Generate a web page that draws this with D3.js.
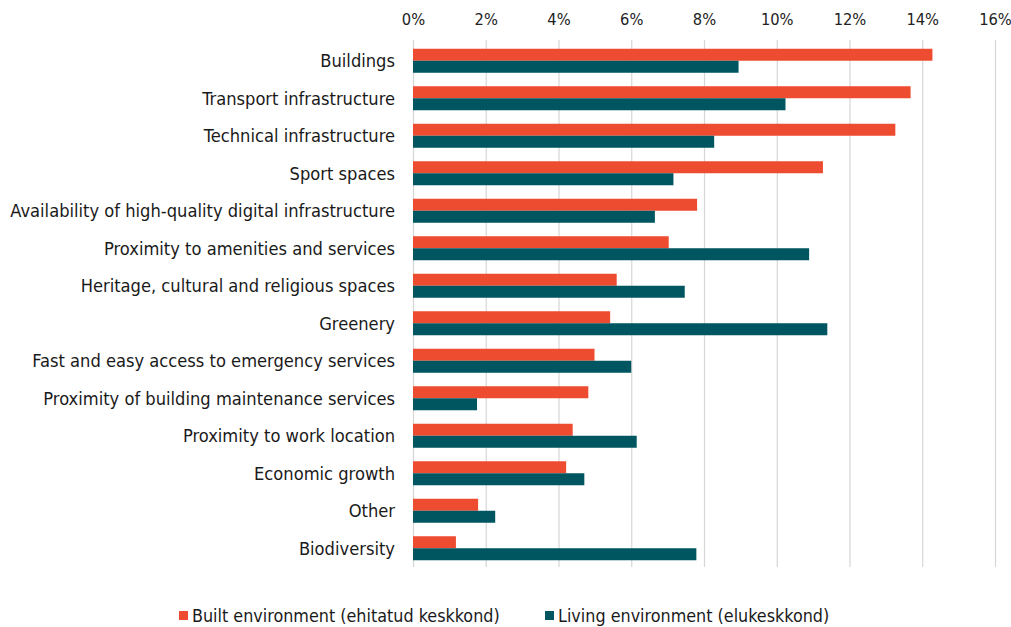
<!DOCTYPE html>
<html>
<head>
<meta charset="utf-8">
<script src="https://cdn.jsdelivr.net/npm/d3@7"></script>
<style>
  html, body { margin: 0; padding: 0; background: #ffffff; }
  svg { display: block; }
  text { font-family: "DejaVu Sans", Verdana, sans-serif; font-stretch: condensed; fill: #1a1a1a; }
</style>
</head>
<body>
<svg id="chart" width="1011" height="627"></svg>
<script>
// Survey categories, top to bottom
const categories = [
  "Buildings",
  "Transport infrastructure",
  "Technical infrastructure",
  "Sport spaces",
  "Availability of high-quality digital infrastructure",
  "Proximity to amenities and services",
  "Heritage, cultural and religious spaces",
  "Greenery",
  "Fast and easy access to emergency services",
  "Proximity of building maintenance services",
  "Proximity to work location",
  "Economic growth",
  "Other",
  "Biodiversity"
];

// Share of responses (%)
const builtValues  = [14.28, 13.68, 13.26, 11.27, 7.81, 7.03, 5.60, 5.42, 4.99, 4.82, 4.39, 4.21, 1.79, 1.18];
const livingValues = [8.95, 10.24, 8.28, 7.16, 6.65, 10.89, 7.47, 11.39, 6.00, 1.76, 6.15, 4.71, 2.26, 7.79];

const seriesNames = ["Built environment (ehitatud keskkond)", "Living environment (elukeskkond)"];
const seriesColors = ["#ee4c30", "#005660"];

const xTicks = [0, 2, 4, 6, 8, 10, 12, 14, 16];

const svg = d3.select("#chart");
const margin = { top: 42, left: 413, right: 16, bottom: 60 };
const plotW = 995 - margin.left;
const plotH = 567 - margin.top;

const x = d3.scaleLinear().domain([0, 16]).range([0, plotW]);
const y = d3.scaleBand().domain(categories).range([0, plotH]).paddingInner(0.36).paddingOuter(0.18);
const sub = d3.scaleBand().domain([0, 1]).range([0, y.bandwidth()]);

const g = svg.append("g").attr("transform", `translate(${margin.left},${margin.top})`);

// vertical gridlines
const grid = g.append("g")
  .call(d3.axisTop(x).tickValues(xTicks).tickSize(-plotH - 2).tickFormat(""));
grid.select(".domain").remove();
grid.selectAll(".tick line").attr("stroke", "#d6d6d6").attr("stroke-width", 1.2)
  .attr("transform", "translate(0,-2)");

// top axis labels
const xAxis = g.append("g").attr("transform", "translate(0,-14)")
  .call(d3.axisTop(x).tickValues(xTicks).tickSize(0).tickFormat(d => d + "%"));
xAxis.select(".domain").remove();
xAxis.selectAll("text").style("font-size", "14px").style("fill", "#222");

// bars
const rows = categories.map((c, i) => ({ c, vals: [builtValues[i], livingValues[i]] }));
const rowG = g.selectAll(".row").data(rows).join("g")
  .attr("class", "row")
  .attr("transform", d => `translate(0,${y(d.c)})`);
rowG.selectAll("rect").data(d => d.vals.map((v, k) => ({ v, k }))).join("rect")
  .attr("x", x(0))
  .attr("y", d => sub(d.k))
  .attr("width", d => x(d.v) - x(0))
  .attr("height", sub.bandwidth())
  .attr("fill", d => seriesColors[d.k]);

// category labels
const labels = g.selectAll(".cat").data(categories).join("text")
  .attr("class", "cat")
  .attr("x", -18)
  .attr("y", d => y(d) + y.bandwidth() / 2)
  .attr("dy", "0.35em")
  .attr("text-anchor", "end")
  .style("font-size", "16px")
  .text(d => d);

// scale label font so the longest category fits its column
let longest = 0;
labels.each(function () { longest = Math.max(longest, this.getComputedTextLength()); });
const fs = 16 * 385 / longest;
labels.style("font-size", fs + "px");
xAxis.selectAll("text").style("font-size", (fs * 0.9) + "px");

// legend
const legend = svg.append("g").attr("transform", "translate(0,616)");
const legendX = [179, 545];
seriesNames.forEach((name, k) => {
  const lg = legend.append("g").attr("transform", `translate(${legendX[k]},0)`);
  lg.append("rect").attr("x", 0).attr("y", -5).attr("width", 9).attr("height", 9).attr("fill", seriesColors[k]);
  lg.append("text").attr("x", 13).attr("y", 0).attr("dy", "0.35em")
    .style("font-size", (fs * 0.98) + "px").text(name);
});
</script>
</body>
</html>
